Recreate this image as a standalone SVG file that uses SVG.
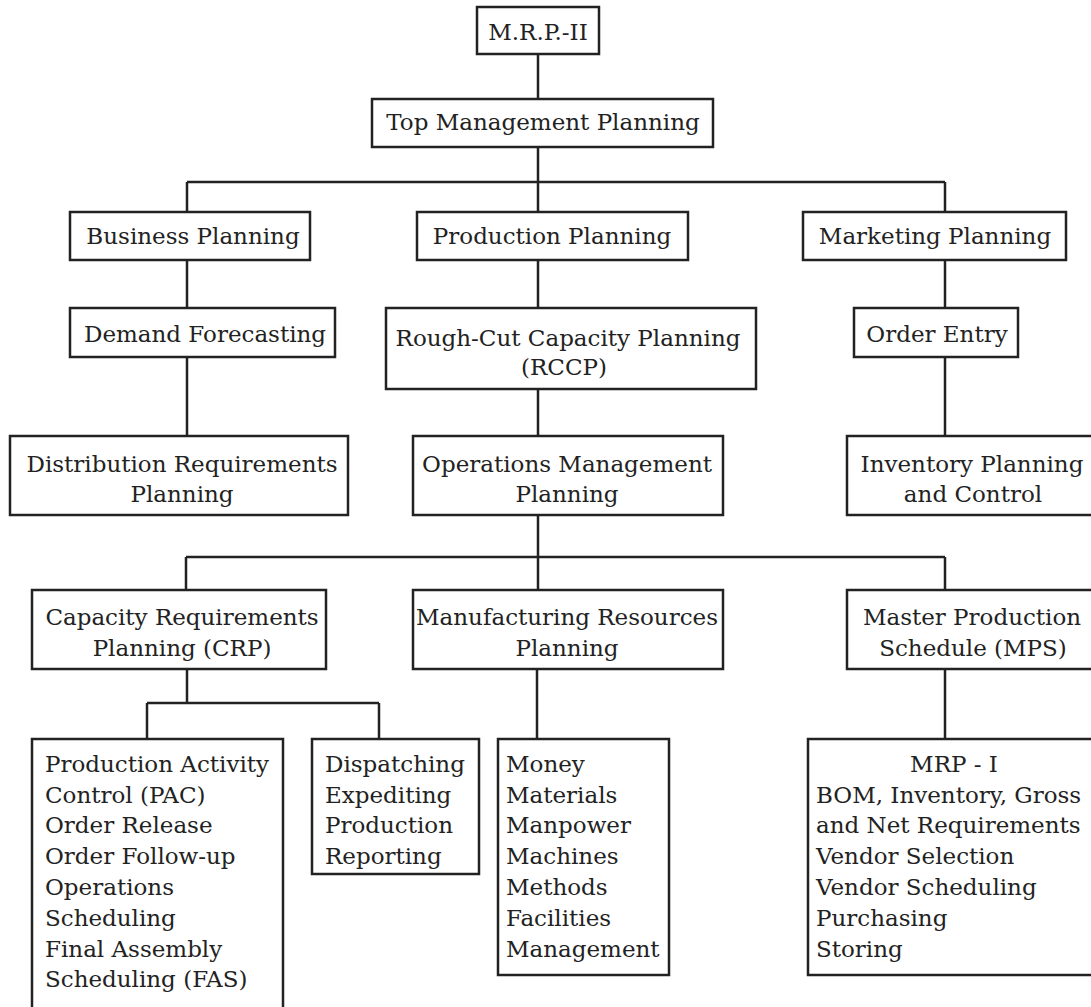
<svg xmlns="http://www.w3.org/2000/svg" width="1091" height="1007" viewBox="0 0 1091 1007">
<style>
rect{fill:#fff;stroke:#222;stroke-width:2.5}
text{font-family:"DejaVu Serif","Liberation Serif",serif;font-size:23px;fill:#222}
.c{text-anchor:middle}
#connectors path{fill:none;stroke:#222;stroke-width:2.5}
</style>
<rect x="0" y="0" width="1091" height="1007" style="stroke:none"/>
<g id="connectors">
<path d="M538 54V99M538 147V182M187 182H945M187 182V212M538 182V212M945 182V212"/>
<path d="M187 260V308M187 357V436M538 260V308M538 389V436M945 260V308M945 357V436"/>
<path d="M538 515V557M186 557H945M186 557V590M538 557V590M945 557V590"/>
<path d="M187 669V703M147 703H379M147 703V739M379 703V739M537 669V739M945 669V739"/>
</g>
<g id="mrp2"><rect x="477" y="7" width="122" height="47"/><text class="c" x="538" y="40">M.R.P.-II</text></g>
<g id="top"><rect x="372" y="99" width="341" height="48"/><text class="c" x="543" y="130">Top Management Planning</text></g>
<g id="business"><rect x="70" y="212" width="240" height="48"/><text class="c" x="193" y="244">Business Planning</text></g>
<g id="production"><rect x="417" y="212" width="271" height="48"/><text class="c" x="552" y="244">Production Planning</text></g>
<g id="marketing"><rect x="803" y="212" width="263" height="48"/><text class="c" x="935" y="244">Marketing Planning</text></g>
<g id="demand"><rect x="70" y="308" width="265" height="49"/><text class="c" x="205" y="342">Demand Forecasting</text></g>
<g id="rccp"><rect x="386" y="308" width="370" height="81"/><text class="c" x="568" y="346">Rough-Cut Capacity Planning</text><text class="c" x="564" y="375">(RCCP)</text></g>
<g id="order"><rect x="854" y="308" width="164" height="49"/><text class="c" x="937" y="342">Order Entry</text></g>
<g id="drp"><rect x="10" y="436" width="338" height="79"/><text class="c" x="182" y="472">Distribution Requirements</text><text class="c" x="182" y="502">Planning</text></g>
<g id="ops"><rect x="413" y="436" width="310" height="79"/><text class="c" x="567" y="472">Operations Management</text><text class="c" x="567" y="502">Planning</text></g>
<g id="inventory"><rect x="847" y="436" width="250" height="79"/><text class="c" x="972" y="472">Inventory Planning</text><text class="c" x="973" y="502">and Control</text></g>
<g id="crp"><rect x="32" y="590" width="294" height="79"/><text class="c" x="182" y="625">Capacity Requirements</text><text class="c" x="182" y="656">Planning (CRP)</text></g>
<g id="manuf"><rect x="413" y="590" width="310" height="79"/><text class="c" x="567" y="625">Manufacturing Resources</text><text class="c" x="567" y="656">Planning</text></g>
<g id="mps"><rect x="847" y="590" width="250" height="79"/><text class="c" x="972" y="625">Master Production</text><text class="c" x="973" y="656">Schedule (MPS)</text></g>
<g id="pac"><rect x="32" y="739" width="251" height="280"/>
<text x="45" y="772">Production Activity</text><text x="45" y="803">Control (PAC)</text><text x="45" y="833">Order Release</text><text x="45" y="864">Order Follow-up</text><text x="45" y="895">Operations</text><text x="45" y="926">Scheduling</text><text x="45" y="957">Final Assembly</text><text x="45" y="987">Scheduling (FAS)</text></g>
<g id="dispatch"><rect x="312" y="739" width="167" height="135"/>
<text x="325" y="772">Dispatching</text><text x="325" y="803">Expediting</text><text x="325" y="833">Production</text><text x="325" y="864">Reporting</text></g>
<g id="money"><rect x="498" y="739" width="171" height="236"/>
<text x="506" y="772">Money</text><text x="506" y="803">Materials</text><text x="506" y="833">Manpower</text><text x="506" y="864">Machines</text><text x="506" y="895">Methods</text><text x="506" y="926">Facilities</text><text x="506" y="957">Management</text></g>
<g id="mrp1"><rect x="808" y="739" width="290" height="236"/>
<text class="c" x="954" y="772">MRP - I</text><text x="816" y="803">BOM, Inventory, Gross</text><text x="816" y="833">and Net Requirements</text><text x="816" y="864">Vendor Selection</text><text x="816" y="895">Vendor Scheduling</text><text x="816" y="926">Purchasing</text><text x="816" y="957">Storing</text></g>
</svg>
